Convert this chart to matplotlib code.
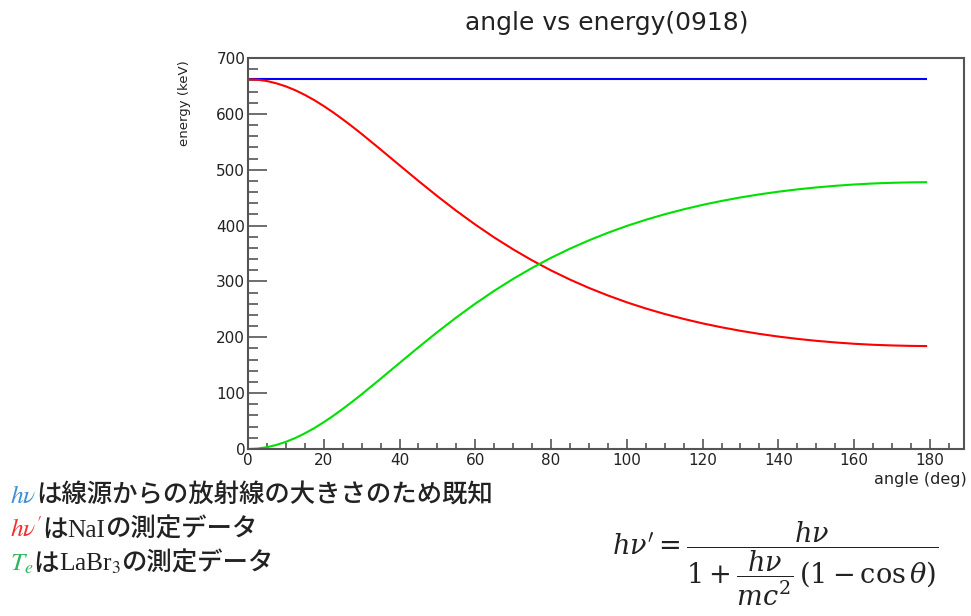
import matplotlib
matplotlib.use("Agg")
import matplotlib.pyplot as plt
from matplotlib.ticker import MultipleLocator

plt.rcParams['mathtext.fontset'] = 'stix'
plt.rcParams['font.family'] = ['DejaVu Sans']

# scattering angle (deg) and energies (keV)
angle = [0, 2.5, 5, 7.5, 10, 12.5, 15, 17.5, 20, 22.5, 25, 27.5, 30, 35, 40, 45,
         50, 55, 60, 65, 70, 75, 80, 85, 90, 95, 100, 105, 110, 115, 120, 125,
         130, 135, 140, 145, 150, 155, 160, 165, 170, 175, 179]
scattered = [662, 661.2, 658.8, 654.7, 649.2, 642.3, 634.0, 624.6, 614.0, 602.6,
             590.3, 577.5, 564.1, 536.3, 508.0, 479.9, 452.6, 426.4, 401.8, 378.7,
             357.4, 337.7, 319.7, 303.3, 288.4, 274.9, 262.6, 251.6, 241.7, 232.9,
             224.9, 217.9, 211.6, 206.1, 201.3, 197.2, 193.7, 190.8, 188.4, 186.6,
             185.4, 184.6, 184.3]
electron = [0, 0.8, 3.2, 7.3, 12.8, 19.7, 28.0, 37.4, 48.0, 59.4, 71.7, 84.5,
            97.9, 125.7, 154.0, 182.1, 209.4, 235.6, 260.2, 283.3, 304.6, 324.3,
            342.3, 358.7, 373.6, 387.1, 399.4, 410.4, 420.3, 429.1, 437.1, 444.1,
            450.4, 455.9, 460.7, 464.8, 468.3, 471.2, 473.6, 475.4, 476.6, 477.4,
            477.7]
source_angle = [0, 179]
source = [662, 662]

fig = plt.figure(figsize=(9.71, 6.16), dpi=100)
ax = fig.add_axes([0.2554, 0.2711, 0.7374, 0.6347])

ax.plot(source_angle, source, color='#0000ff', lw=1.5)
ax.plot(angle, scattered, color='#ff0000', lw=1.5)
ax.plot(angle, electron, color='#00e000', lw=1.5)

ax.set_xlim(0, 189)
ax.set_ylim(0, 700)
ax.xaxis.set_major_locator(MultipleLocator(20))
ax.xaxis.set_minor_locator(MultipleLocator(5))
ax.yaxis.set_major_locator(MultipleLocator(100))
ax.yaxis.set_minor_locator(MultipleLocator(20))
ax.tick_params(axis='x', which='major', direction='in', length=7, width=1.2,
               color='#555555', labelsize=11, pad=3, top=False, labelcolor='#222222')
ax.tick_params(axis='x', which='minor', direction='in', length=4, width=1.2,
               color='#555555', top=False)
ax.tick_params(axis='y', which='major', direction='in', length=14, width=1.2,
               color='#555555', labelsize=11, pad=2, right=False, labelcolor='#222222')
ax.tick_params(axis='y', which='minor', direction='in', length=7, width=1.2,
               color='#555555', right=False)
for s in ax.spines.values():
    s.set_color('#555555')
    s.set_linewidth(1.5)

fig.text(0.625, 0.9627, 'angle vs energy(0918)', fontsize=18,
         ha='center', va='center', color='#222222')
fig.text(0.996, 0.2208, 'angle (deg)', fontsize=11.5, ha='right', va='center',
         color='#222222')
fig.text(0.1905, 0.9026, 'energy (keV)', fontsize=9.5, ha='center', va='top',
         rotation=90, color='#222222')

# notes below the plot
r = fig.canvas.get_renderer()
cjk = ['Noto Sans CJK JP', 'DejaVu Sans']
serif = ['Liberation Serif', 'DejaVu Serif']


def put_line(x0, y0, pieces):
    x = x0
    for s, col, fam in pieces:
        t = fig.text(x, y0, s, color=col, fontsize=18.3, family=fam,
                     weight='medium', va='baseline')
        x = t.get_window_extent(r).x1 / fig.bbox.width


put_line(0.010, 0.1834, [(r'$h\nu$', '#3d8fd6', serif),
                         ('は線源からの放射線の大きさのため既知', '#222222', cjk)])
put_line(0.010, 0.1282, [(r"$h\nu'$", '#f03030', serif),
                         ('は', '#222222', cjk),
                         ('NaI', '#222222', serif),
                         ('の測定データ', '#222222', cjk)])
put_line(0.010, 0.0731, [(r'$T_e$', '#2fb560', serif),
                         ('は', '#222222', cjk),
                         (r'LaBr$_3$', '#222222', serif),
                         ('の測定データ', '#222222', cjk)])

fig.text(0.630, 0.0844,
         r"$h\nu' = \dfrac{h\nu}{1+\dfrac{h\nu}{mc^2}\,(1-\cos\theta)}$",
         fontsize=19.5, va='center', ha='left', color='#222222',
         math_fontfamily='dejavuserif')

fig.savefig('out.png', dpi=100)
